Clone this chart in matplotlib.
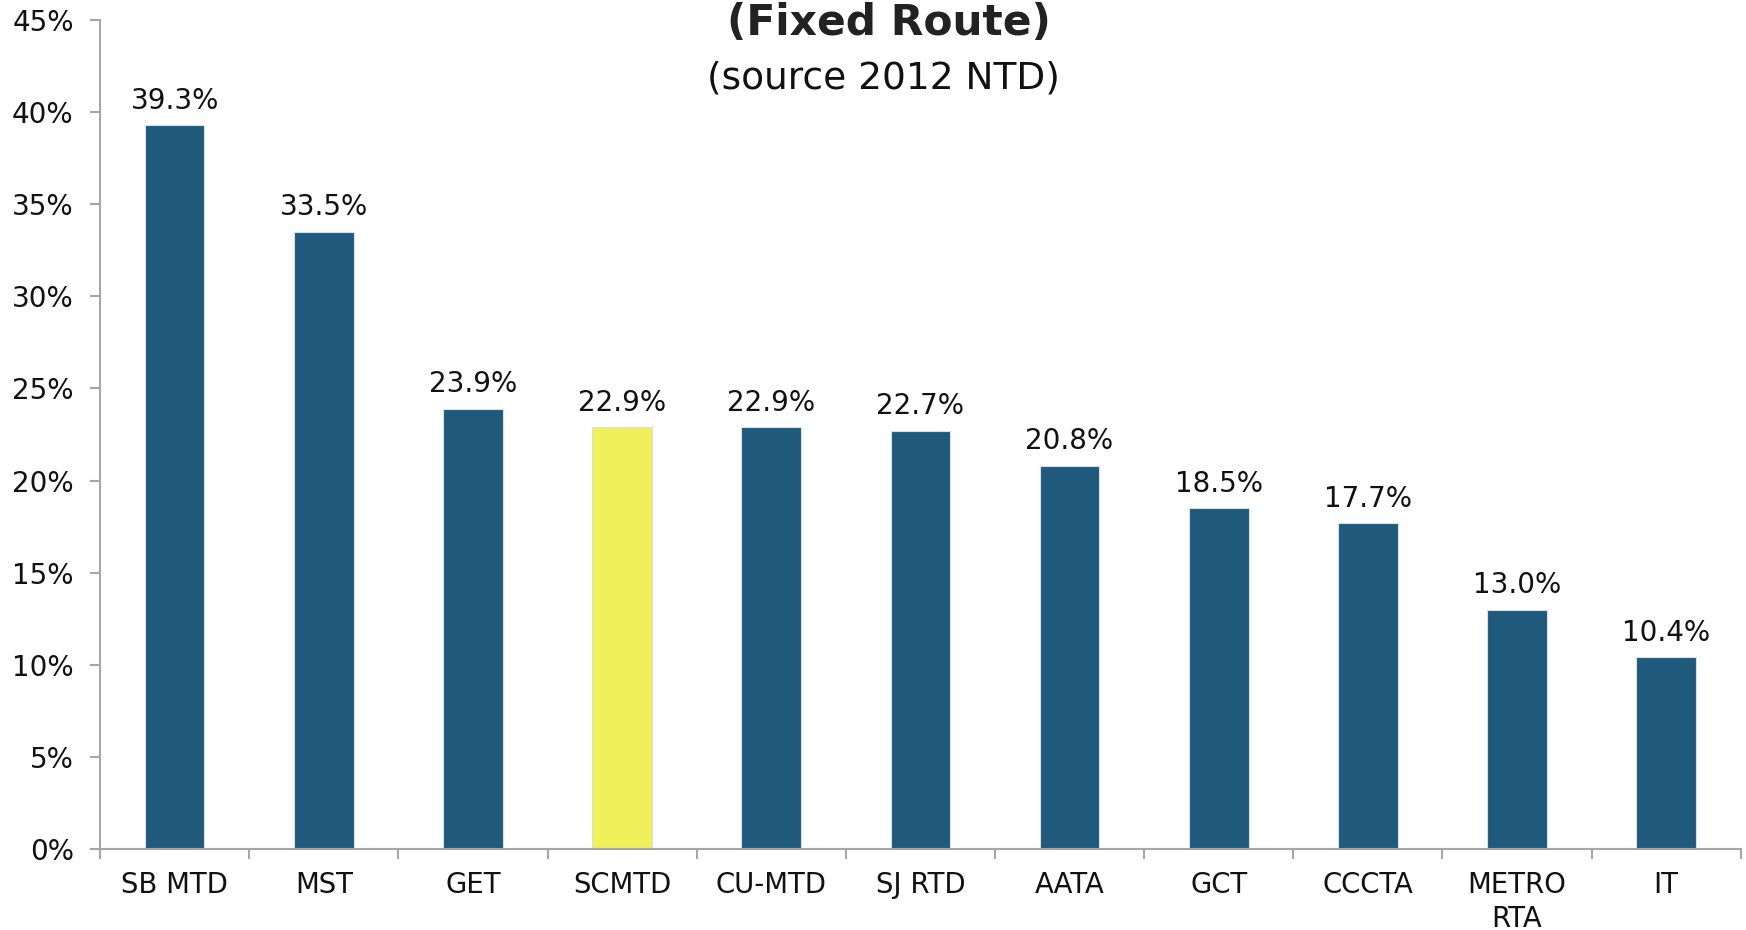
import numpy as np
import matplotlib.pyplot as plt
from matplotlib.ticker import FixedLocator, PercentFormatter

agencies = ['SB MTD', 'MST', 'GET', 'SCMTD', 'CU-MTD', 'SJ RTD', 'AATA',
            'GCT', 'CCCTA', 'METRO\nRTA', 'IT']
values = [39.3, 33.5, 23.9, 22.9, 22.9, 22.7, 20.8, 18.5, 17.7, 13.0, 10.4]
highlight = 'SCMTD'

blue = '#1F5A7C'
yellow = '#F0F05A'
grey = '#A6A6A6'

plt.rcParams['font.family'] = ['DejaVu Sans']

fig = plt.figure(figsize=(17.46, 9.30), dpi=100)
ax = fig.add_axes([0.0573, 0.0871, 0.997 - 0.0573, 0.9785 - 0.0871])

x = np.arange(len(agencies))
colors = [yellow if a == highlight else blue for a in agencies]
bars = ax.bar(x, values, width=0.40, color=colors, edgecolor='#D8DEE3',
              linewidth=0.8, zorder=2)

for b, v in zip(bars, values):
    ax.annotate(f'{v:.1f}%', (b.get_x() + b.get_width() / 2, v),
                xytext=(0, 7.5), textcoords='offset points',
                ha='center', va='bottom', fontsize=20, color='#111111')

ax.set_xlim(-0.5, len(agencies) - 0.5)
ax.set_ylim(0, 45)
ax.set_yticks(np.arange(0, 46, 5))
ax.yaxis.set_major_formatter(PercentFormatter(decimals=0))
ax.set_xticks(x)
ax.set_xticklabels(agencies, linespacing=1.25)
ax.xaxis.set_minor_locator(FixedLocator(np.arange(-0.5, len(agencies), 1)))

for s in ['top', 'right']:
    ax.spines[s].set_visible(False)
for s in ['left', 'bottom']:
    ax.spines[s].set_color(grey)
    ax.spines[s].set_linewidth(1.5)

ax.tick_params(axis='y', length=7, width=1.5, color=grey, pad=12,
               labelsize=20, labelcolor='#111111')
ax.tick_params(axis='x', which='major', length=0, pad=16,
               labelsize=19.8, labelcolor='#111111')
ax.tick_params(axis='x', which='minor', length=7, width=1.5, color=grey)

fig.text(889 / 1746, 1 - 2 / 930, '(Fixed Route)', ha='center', va='top',
         fontsize=30.5, fontweight='bold', color='#222222')
fig.text(883 / 1746, 1 - 61 / 930, '(source 2012 NTD)', ha='center', va='top',
         fontsize=27, color='#111111')

fig.savefig('out.png', dpi=100)
